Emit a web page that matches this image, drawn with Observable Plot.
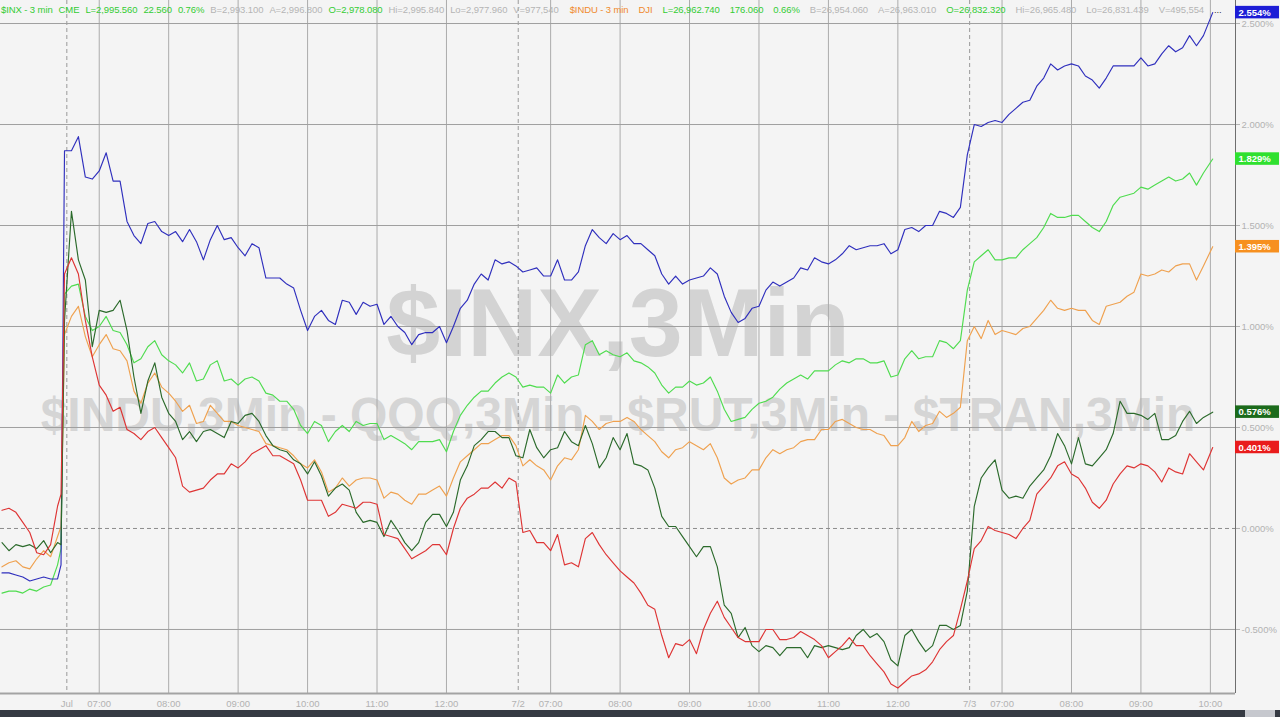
<!DOCTYPE html>
<html>
<head>
<meta charset="utf-8">
<script src="https://cdn.jsdelivr.net/npm/d3@7"></script>
<script src="https://cdn.jsdelivr.net/npm/@observablehq/plot@0.6"></script>
<style>
  html, body { margin: 0; padding: 0; background: #f4f4f4; }
  body { width: 1280px; height: 717px; overflow: hidden; position: relative; font-family: "Liberation Sans", Arial, sans-serif; }
  #hdr { position: absolute; left: 1px; top: 4px; font-size: 9.5px; line-height: 11px; white-space: nowrap; letter-spacing: -0.1px; }
  #hdr span { margin-right: 6px; }
  #hdr span.g2 { margin-right: 10px; }
  #hdr span.first2 { margin-left: 5px; }
  #bar { position: relative; height: 7px; background: #353a43; }
  #thumb { position: absolute; right: 5px; top: 0; width: 30px; height: 7px; background: #c6c8ce; }
</style>
</head>
<body>
<div id="chart"></div>
<div id="bar"><div id="thumb"></div></div>
<div id="hdr"></div>
<script>
// trading minutes since 1 Jul 06:30 (sessions of 390 minutes joined end to end; negatives = 28 Jun close)
const minutes = [-54,-48,-42,-36,-30,-24,-18,-12,-6,-3,
0,6,12,18,24,30,36,42,48,54,
60,66,72,78,84,90,96,102,108,114,
120,126,132,138,144,150,156,162,168,174,
180,186,192,198,204,210,216,222,228,234,
240,246,252,258,264,270,276,282,288,294,
300,306,312,318,324,330,336,342,348,354,
360,366,372,378,384,390,396,402,408,414,
420,426,432,438,444,450,456,462,468,474,
480,486,492,498,504,510,516,522,528,534,
540,546,552,558,564,570,576,582,588,594,
600,606,612,618,624,630,636,642,648,654,
660,666,672,678,684,690,696,702,708,714,
720,726,732,738,744,750,756,762,768,774,
780,786,792,798,804,810,816,822,828,834,
840,846,852,858,864,870,876,882,888,894,
900,906,912,918,924,930,936,942,948,954,
960,966,972,978,984,992];

// % change series
const qqq = [-0.22,-0.22,-0.23,-0.24,-0.26,-0.25,-0.24,-0.25,-0.25,-0.18,
1.87,1.87,1.94,1.74,1.73,1.77,1.86,1.72,1.72,1.52,
1.45,1.41,1.51,1.52,1.47,1.45,1.47,1.42,1.48,1.42,
1.33,1.43,1.50,1.43,1.44,1.39,1.35,1.41,1.39,1.24,
1.24,1.24,1.21,1.19,1.08,0.98,1.05,1.08,1.03,1.01,
1.13,1.12,1.06,1.12,1.10,1.11,1.01,1.05,1.00,0.97,
0.91,0.96,0.97,0.97,1.00,0.92,1.00,1.09,1.13,1.21,
1.26,1.23,1.33,1.31,1.32,1.30,1.27,1.28,1.29,1.25,
1.25,1.33,1.23,1.23,1.27,1.40,1.48,1.44,1.41,1.46,
1.43,1.45,1.41,1.41,1.38,1.35,1.26,1.21,1.25,1.21,
1.23,1.24,1.25,1.29,1.26,1.15,1.07,1.02,1.04,1.09,
1.10,1.18,1.22,1.20,1.22,1.24,1.29,1.28,1.34,1.32,
1.31,1.33,1.36,1.40,1.38,1.39,1.40,1.40,1.41,1.36,
1.38,1.48,1.49,1.47,1.50,1.50,1.57,1.56,1.54,1.59,
1.85,2.00,1.99,2.01,2.02,2.01,2.05,2.08,2.11,2.12,
2.19,2.23,2.30,2.27,2.29,2.30,2.29,2.24,2.22,2.18,
2.23,2.29,2.29,2.29,2.29,2.33,2.29,2.30,2.35,2.39,
2.36,2.38,2.44,2.39,2.44,2.554];

const inx = [-0.32,-0.31,-0.31,-0.32,-0.30,-0.31,-0.29,-0.28,-0.18,-0.10,
1.16,1.20,1.21,1.05,0.98,1.00,1.05,0.98,0.97,0.91,
0.82,0.84,0.90,0.93,0.86,0.83,0.81,0.77,0.82,0.73,
0.74,0.81,0.83,0.73,0.74,0.71,0.74,0.75,0.73,0.67,
0.66,0.63,0.63,0.59,0.51,0.47,0.53,0.51,0.43,0.48,
0.51,0.48,0.53,0.51,0.52,0.52,0.44,0.46,0.44,0.42,
0.39,0.43,0.43,0.43,0.44,0.38,0.48,0.56,0.61,0.65,
0.68,0.68,0.72,0.75,0.77,0.75,0.70,0.71,0.70,0.70,
0.67,0.76,0.72,0.75,0.76,0.91,0.93,0.86,0.88,0.86,
0.85,0.87,0.83,0.82,0.80,0.77,0.71,0.67,0.70,0.70,
0.73,0.71,0.72,0.75,0.68,0.59,0.53,0.54,0.55,0.59,
0.62,0.63,0.65,0.69,0.72,0.74,0.76,0.74,0.78,0.78,
0.78,0.81,0.83,0.82,0.84,0.84,0.82,0.82,0.83,0.75,
0.76,0.84,0.88,0.84,0.85,0.85,0.93,0.92,0.89,0.93,
1.18,1.32,1.35,1.38,1.33,1.33,1.34,1.34,1.38,1.41,
1.44,1.49,1.56,1.54,1.54,1.55,1.55,1.52,1.49,1.47,
1.52,1.60,1.64,1.65,1.66,1.69,1.68,1.70,1.72,1.74,
1.72,1.73,1.76,1.70,1.76,1.829];

const indu = [-0.19,-0.17,-0.16,-0.19,-0.20,-0.15,-0.11,-0.14,-0.04,0.01,
0.96,1.05,1.10,0.95,0.85,0.91,0.96,0.89,0.88,0.83,
0.68,0.62,0.72,0.77,0.70,0.67,0.63,0.58,0.61,0.52,
0.53,0.61,0.57,0.53,0.53,0.51,0.50,0.49,0.48,0.42,
0.41,0.40,0.39,0.36,0.32,0.30,0.34,0.28,0.18,0.20,
0.25,0.21,0.24,0.25,0.25,0.24,0.15,0.18,0.17,0.14,
0.12,0.17,0.17,0.19,0.21,0.16,0.25,0.33,0.36,0.39,
0.42,0.42,0.44,0.46,0.46,0.41,0.31,0.34,0.31,0.29,
0.24,0.31,0.35,0.34,0.39,0.56,0.53,0.49,0.52,0.53,
0.53,0.55,0.53,0.49,0.46,0.43,0.38,0.35,0.39,0.40,
0.43,0.41,0.39,0.42,0.35,0.25,0.22,0.24,0.25,0.29,
0.29,0.35,0.39,0.37,0.39,0.40,0.43,0.44,0.44,0.49,
0.49,0.53,0.54,0.52,0.50,0.49,0.49,0.47,0.46,0.41,
0.41,0.45,0.53,0.48,0.51,0.52,0.58,0.55,0.57,0.60,
0.93,1.00,0.94,1.03,0.96,0.98,0.97,0.96,0.99,1.00,
1.04,1.08,1.13,1.09,1.08,1.09,1.08,1.08,1.03,1.01,
1.10,1.11,1.12,1.15,1.17,1.26,1.25,1.26,1.28,1.27,
1.30,1.31,1.31,1.23,1.30,1.395];

const rut = [-0.07,-0.11,-0.08,-0.09,-0.08,-0.10,-0.06,-0.12,-0.07,-0.08,
1.03,1.57,1.33,1.23,0.90,1.08,1.07,1.08,1.13,0.98,
0.75,0.57,0.73,0.82,0.65,0.57,0.53,0.44,0.48,0.43,
0.48,0.49,0.47,0.45,0.53,0.52,0.56,0.57,0.53,0.46,
0.41,0.39,0.38,0.34,0.32,0.27,0.33,0.26,0.16,0.20,
0.22,0.19,0.08,0.03,0.04,0.03,-0.04,0.04,-0.01,-0.07,
-0.11,-0.07,0.03,0.07,0.07,0.01,0.08,0.24,0.31,0.41,
0.44,0.48,0.48,0.45,0.45,0.36,0.35,0.49,0.40,0.35,
0.39,0.40,0.48,0.43,0.41,0.51,0.42,0.30,0.35,0.45,
0.39,0.47,0.32,0.31,0.29,0.20,0.06,0.01,0.01,-0.04,
-0.09,-0.14,-0.09,-0.09,-0.19,-0.38,-0.42,-0.54,-0.49,-0.58,
-0.61,-0.58,-0.59,-0.63,-0.59,-0.59,-0.59,-0.64,-0.58,-0.59,
-0.58,-0.59,-0.60,-0.59,-0.53,-0.50,-0.54,-0.52,-0.56,-0.65,
-0.68,-0.53,-0.50,-0.56,-0.61,-0.58,-0.48,-0.48,-0.50,-0.48,
-0.31,0.11,0.25,0.30,0.34,0.19,0.15,0.16,0.15,0.21,
0.25,0.29,0.36,0.47,0.41,0.32,0.45,0.32,0.31,0.35,
0.39,0.47,0.63,0.57,0.57,0.56,0.54,0.57,0.44,0.44,
0.46,0.53,0.58,0.52,0.55,0.576];

const tran = [0.09,0.10,0.08,0.03,-0.02,-0.12,-0.13,-0.08,0.11,0.17,
1.26,1.34,1.26,1.03,0.85,0.71,0.66,0.58,0.60,0.49,
0.47,0.44,0.48,0.50,0.45,0.40,0.35,0.21,0.18,0.19,
0.20,0.24,0.27,0.27,0.32,0.30,0.33,0.37,0.39,0.41,
0.36,0.36,0.34,0.32,0.24,0.14,0.14,0.14,0.06,0.08,
0.12,0.11,0.10,0.13,0.13,0.12,-0.03,-0.04,-0.05,-0.10,
-0.15,-0.13,-0.11,-0.08,-0.08,-0.13,0.00,0.10,0.15,0.17,
0.20,0.20,0.23,0.20,0.25,0.23,-0.02,-0.01,-0.07,-0.07,
-0.11,-0.03,-0.18,-0.17,-0.19,-0.05,-0.02,-0.08,-0.13,-0.17,
-0.21,-0.24,-0.27,-0.32,-0.38,-0.40,-0.53,-0.64,-0.57,-0.58,
-0.55,-0.62,-0.50,-0.42,-0.36,-0.44,-0.49,-0.54,-0.56,-0.56,
-0.56,-0.50,-0.50,-0.55,-0.55,-0.54,-0.51,-0.53,-0.55,-0.58,
-0.64,-0.61,-0.58,-0.54,-0.58,-0.58,-0.63,-0.67,-0.71,-0.77,
-0.79,-0.76,-0.73,-0.72,-0.70,-0.66,-0.60,-0.56,-0.53,-0.40,
-0.26,-0.10,-0.06,0.01,-0.01,-0.02,-0.03,-0.05,0.00,0.04,
0.17,0.21,0.25,0.31,0.33,0.27,0.25,0.20,0.13,0.10,
0.14,0.22,0.27,0.31,0.30,0.32,0.31,0.28,0.23,0.30,
0.28,0.27,0.37,0.33,0.29,0.401];

const seriesNames  = ["$INX", "$INDU", "QQQ", "$RUT", "$TRAN"];
const seriesValues = [inx, indu, qqq, rut, tran];
const lineColors   = ["#4fdc4f", "#efa14f", "#2f2fbd", "#2b6a2b", "#de3434"];
const boxColors    = ["#2fe02f", "#f7901f", "#1d1dd6", "#1b6a1b", "#e91c1c"];

// x axis
const hourTicks  = [30, 90, 150, 210, 270, 330, 420, 480, 540, 600, 660, 720, 810, 870, 930, 990];
const hourLabels = ["07:00","08:00","09:00","10:00","11:00","12:00","07:00","08:00","09:00","10:00","11:00","12:00","07:00","08:00","09:00","10:00"];
const dateTicks  = [2, 392, 782];
const dateLabels = ["Jul", "7/2", "7/3"];
// y axis
const yTicks = [-0.5, 0, 0.5, 1, 1.5, 2, 2.5];

// watermark & header text
const watermark1 = "$INX,3Min";
const watermark2 = "$INDU,3Min - QQQ,3Min - $RUT,3Min - $TRAN,3Min";
const headerGroup1 = [
  ["$INX - 3 min", "#33cc33"], ["CME", "#33cc33"], ["L=2,995.560", "#33cc33"], ["22.560", "#33cc33"], ["0.76%", "#33cc33"],
  ["B=2,993.100", "#b4b4b4"], ["A=2,996.800", "#b4b4b4"], ["O=2,978.080", "#33cc33"], ["Hi=2,995.840", "#b4b4b4"],
  ["Lo=2,977.960", "#b4b4b4"], ["V=977,540", "#b4b4b4"]
];
const headerGroup2 = [
  ["$INDU - 3 min", "#f08a2c"], ["DJI", "#f08a2c"], ["L=26,962.740", "#33cc33"], ["176.060", "#33cc33"], ["0.66%", "#33cc33"],
  ["B=26,954.060", "#b4b4b4"], ["A=26,963.010", "#b4b4b4"], ["O=26,832.320", "#33cc33"], ["Hi=26,965.480", "#b4b4b4"],
  ["Lo=26,831.439", "#b4b4b4"], ["V=495,554", "#b4b4b4"], ["...", "#333333"]
];

const xDomain = [-55.3, 1011.7];
const yDomain = [-0.817, 2.614];

const allTicks = [...hourTicks, ...dateTicks];
const tickText = new Map([...hourTicks.map((t, i) => [t, hourLabels[i]]), ...dateTicks.map((t, i) => [t, dateLabels[i]])]);

const lastRows = seriesNames.map((name, i) => ({name, v: seriesValues[i][seriesValues[i].length - 1], box: boxColors[i]}));

const lineMarks = seriesValues.map((vals, i) =>
  Plot.line(vals, {x: (d, j) => minutes[j], y: d => d, stroke: lineColors[i], strokeWidth: 1.15})
);

const chart = Plot.plot({
  width: 1280,
  height: 710,
  marginTop: 0, marginLeft: 0, marginRight: 45, marginBottom: 17,
  style: {background: "#f4f4f4", fontFamily: "'Liberation Sans', Arial, sans-serif", overflow: "visible"},
  x: {domain: xDomain},
  y: {domain: yDomain},
  color: {type: "identity"},
  marks: [
    Plot.text([watermark1], {frameAnchor: "top", dy: 355, lineAnchor: "bottom", text: d => d, fontSize: 97, fontWeight: "bold", fill: "#d3d3d3"}),
    Plot.text([watermark2], {frameAnchor: "top", dy: 430, lineAnchor: "bottom", text: d => d, fontSize: 48, fontWeight: "bold", fill: "#d5d5d5"}),
    Plot.gridX({ticks: hourTicks, stroke: "#ababab", strokeOpacity: 1}),
    Plot.ruleX(dateTicks, {stroke: "#9a9a9a", strokeDasharray: "4,3"}),
    Plot.gridY({ticks: yTicks.filter(d => d !== 0), stroke: "#9f9f9f", strokeOpacity: 1}),
    Plot.ruleY([0], {stroke: "#8c8c8c", strokeDasharray: "4,3"}),
    ...lineMarks,
    Plot.ruleY([yDomain[0]], {stroke: "#a3a3a3", strokeWidth: 2}),
    Plot.ruleX([xDomain[1]], {stroke: "#6e6e6e"}),
    Plot.axisX({ticks: allTicks, tickFormat: d => tickText.get(d), tickSize: 0, tickPadding: 7, fontSize: 9.5, color: "#b2b2b2", label: null}),
    Plot.axisY({anchor: "right", ticks: yTicks, tickFormat: d => d.toFixed(3) + "%", tickSize: 4, tickPadding: 2, fontSize: 9.5, color: "#b2b2b2", label: null}),
    Plot.rect(lastRows, {x1: () => xDomain[1], x2: () => xDomain[1] + 38, y1: d => d.v - 0.031, y2: d => d.v + 0.031, fill: "box"}),
    Plot.text(lastRows, {x: () => xDomain[1], y: "v", text: d => d.v.toFixed(3) + "%", textAnchor: "start", dx: 3, fill: "white", fontWeight: "bold", fontSize: 9.5})
  ]
});
document.getElementById("chart").appendChild(chart);

const hdr = document.getElementById("hdr");
headerGroup1.forEach(([txt, col]) => {
  const s = document.createElement("span");
  s.textContent = txt;
  s.style.color = col;
  hdr.appendChild(s);
});
headerGroup2.forEach(([txt, col], i) => {
  const s = document.createElement("span");
  s.textContent = txt;
  s.style.color = col;
  s.className = i === 0 ? "g2 first2" : "g2";
  hdr.appendChild(s);
});
</script>
</body>
</html>
